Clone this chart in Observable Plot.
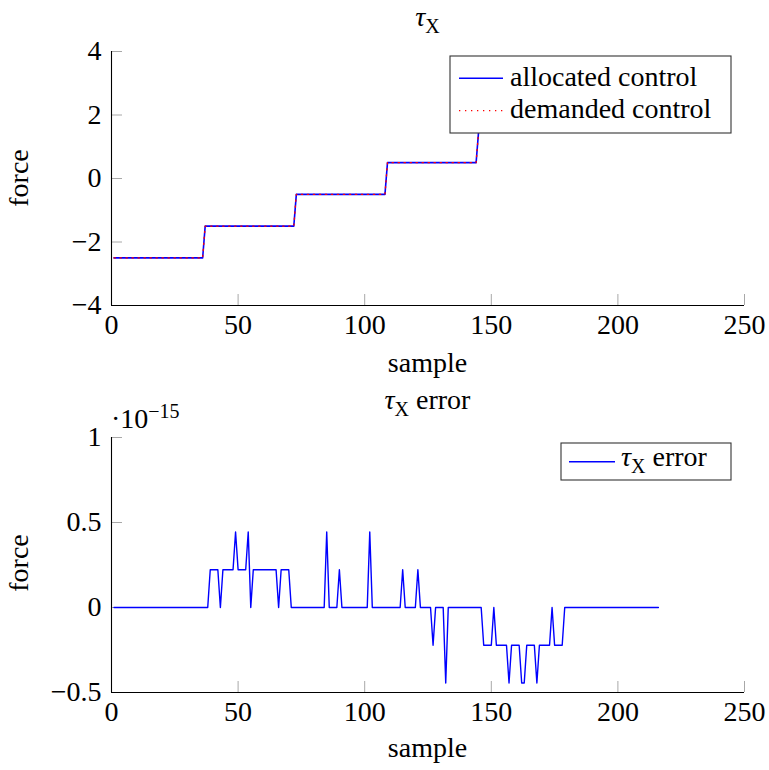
<!DOCTYPE html>
<html>
<head>
<meta charset="utf-8">
<script src="https://cdn.jsdelivr.net/npm/d3@7"></script>
<script src="https://cdn.jsdelivr.net/npm/@observablehq/plot@0.6"></script>
<style>
  html, body { margin: 0; padding: 0; background: #fff; }
  #chart svg { display: block; overflow: visible; }
</style>
</head>
<body>
<div id="chart"></div>
<script>
// ---- data ----
const xTicks = [0, 50, 100, 150, 200, 250];
const topYTicks = [-4, -2, 0, 2, 4];
const errYTicks = [-0.5, 0, 0.5, 1];

// τX: sample / force at the breakpoints of the step signal
const ctrlSample = [1, 36, 37, 72, 73, 108, 109, 144, 145, 180, 181, 216];
const allocatedForce = [-2.5, -2.5, -1.5, -1.5, -0.5, -0.5, 0.5, 0.5, 1.5, 1.5, 2.5, 2.5];
const demandedForce  = [-2.5, -2.5, -1.5, -1.5, -0.5, -0.5, 0.5, 0.5, 1.5, 1.5, 2.5, 2.5];

// τX error (units of 1e-15): sample / value at breakpoints
const errSample = [1, 38, 39, 42, 43, 44, 48, 49, 50, 53, 54, 55, 56, 65, 66, 67, 70, 71,
  84, 85, 86, 89, 90, 91, 101, 102, 103, 114, 115, 116, 120, 121, 122, 126, 127, 128,
  131, 132, 133, 146, 147, 150, 151, 152, 156, 157, 158, 161, 162, 163, 164, 167, 168,
  169, 173, 174, 175, 178, 179, 216];
const errValue = [0, 0, 0.222, 0.222, 0, 0.222, 0.222, 0.444, 0.222, 0.222, 0.444, 0, 0.222, 0.222, 0, 0.222, 0.222, 0,
  0, 0.444, 0, 0, 0.222, 0, 0, 0.444, 0, 0, 0.222, 0, 0, 0.222, 0, 0, -0.222, 0,
  0, -0.444, 0, 0, -0.222, -0.222, 0, -0.222, -0.222, -0.444, -0.222, -0.222, -0.444, -0.444, -0.222, -0.222, -0.444,
  -0.222, -0.222, 0, -0.222, -0.222, 0, 0];

const topTitle = "τ", subX = "X";
const legendTop = ["allocated control", "demanded control"];
const legendErr = " error";

// ---- layout ----
const W = 769, H = 385;
const FONT = "'Liberation Serif', 'Times New Roman', serif";
const FS = 28;
const SUB = 20;
const BLUE = "#0000ff", RED = "#ff0000", TICK = "#a8a8a8";

const allocated = ctrlSample.map((s, i) => ({sample: s, force: allocatedForce[i]}));
const demanded = ctrlSample.map((s, i) => ({sample: s, force: demandedForce[i]}));
const errData = errSample.map((s, i) => ({sample: s, value: errValue[i]}));

const fmt = d3.format("");

function frameMarks(m, yDomain, yTicks) {
  const ph = H - m.top - m.bottom, pw = W - m.left - m.right;
  return [
    Plot.tickX(xTicks, {x: d => d, stroke: TICK, strokeWidth: 1, insetTop: ph - 11}),
    Plot.tickY(yTicks, {y: d => d, stroke: TICK, strokeWidth: 1, insetRight: pw - 11}),
    Plot.axisX({ticks: xTicks, tickSize: 0, tickPadding: 9, label: null, tickFormat: fmt, fontSize: FS}),
    Plot.axisY({ticks: yTicks, tickSize: 0, tickPadding: 10, label: null, tickFormat: fmt, fontSize: FS}),
    Plot.ruleX([0], {stroke: "#000", strokeWidth: 1.1}),
    Plot.ruleY([yDomain[0]], {stroke: "#000", strokeWidth: 1.1})
  ];
}

function labels(g, titleY, extra) {
  const t = g.append("text").attr("x", 427.5).attr("y", titleY).attr("text-anchor", "middle")
    .attr("font-size", FS);
  t.append("tspan").attr("font-style", "italic").text(topTitle);
  t.append("tspan").attr("font-size", SUB).attr("dy", 7).text(subX);
  if (extra) t.append("tspan").attr("dy", -7).text(extra);
  g.append("text").attr("transform", "translate(28,178) rotate(-90)").attr("text-anchor", "middle")
    .attr("font-size", FS).text("force");
  g.append("text").attr("x", 427.5).attr("y", 372).attr("text-anchor", "middle")
    .attr("font-size", FS).text("sample");
}

// ---- top panel ----
const mTop = {top: 51, bottom: 80, left: 111, right: 25};
const topPlot = Plot.plot({
  width: W, height: H,
  marginTop: mTop.top, marginBottom: mTop.bottom, marginLeft: mTop.left, marginRight: mTop.right,
  style: {fontFamily: FONT, fontSize: FS + "px", background: "#fff", color: "#000", overflow: "visible"},
  x: {domain: [0, 250]},
  y: {domain: [-4, 4]},
  marks: [
    ...frameMarks(mTop, [-4, 4], topYTicks),
    Plot.line(allocated, {x: "sample", y: "force", stroke: BLUE, strokeWidth: 1.6}),
    Plot.line(demanded, {x: "sample", y: "force", stroke: RED, strokeWidth: 1.3, strokeDasharray: "1.3,4.7"}),
    () => {
      const g = d3.create("svg:g").attr("font-family", FONT);
      labels(g, 26, null);
      const lg = g.append("g").attr("text-anchor", "start");
      lg.append("rect").attr("x", 450).attr("y", 56).attr("width", 281).attr("height", 77)
        .attr("fill", "#fff").attr("stroke", "#333").attr("stroke-width", 1.1);
      lg.append("line").attr("x1", 459).attr("x2", 503).attr("y1", 78.3).attr("y2", 78.3)
        .attr("stroke", BLUE).attr("stroke-width", 1.6);
      lg.append("line").attr("x1", 459).attr("x2", 503).attr("y1", 110.7).attr("y2", 110.7)
        .attr("stroke", RED).attr("stroke-width", 1.3).attr("stroke-dasharray", "1.3,4.7");
      lg.append("text").attr("x", 510).attr("y", 86).attr("text-anchor", "start").attr("font-size", FS).text(legendTop[0]);
      lg.append("text").attr("x", 510).attr("y", 117.5).attr("text-anchor", "start").attr("font-size", FS).text(legendTop[1]);
      return g.node();
    }
  ]
});

// ---- bottom panel ----
const mErr = {top: 52, bottom: 78, left: 111, right: 25};
const errPlot = Plot.plot({
  width: W, height: H,
  marginTop: mErr.top, marginBottom: mErr.bottom, marginLeft: mErr.left, marginRight: mErr.right,
  style: {fontFamily: FONT, fontSize: FS + "px", background: "#fff", color: "#000", overflow: "visible"},
  x: {domain: [0, 250]},
  y: {domain: [-0.5, 1]},
  marks: [
    ...frameMarks(mErr, [-0.5, 1], errYTicks),
    Plot.line(errData, {x: "sample", y: "value", stroke: BLUE, strokeWidth: 1.4}),
    () => {
      const g = d3.create("svg:g").attr("font-family", FONT);
      labels(g, 24, legendErr);
      const e = g.append("text").attr("x", 111).attr("y", 43).attr("text-anchor", "start").attr("font-size", FS);
      e.append("tspan").text("·10");
      e.append("tspan").attr("font-size", SUB).attr("dy", -10).text("−15");
      const lg = g.append("g").attr("text-anchor", "start");
      lg.append("rect").attr("x", 561).attr("y", 58).attr("width", 170).attr("height", 37)
        .attr("fill", "#fff").attr("stroke", "#333").attr("stroke-width", 1.1);
      lg.append("line").attr("x1", 569).attr("x2", 615).attr("y1", 76.7).attr("y2", 76.7)
        .attr("stroke", BLUE).attr("stroke-width", 1.4);
      const t = lg.append("text").attr("x", 621).attr("y", 81).attr("text-anchor", "start").attr("font-size", FS);
      t.append("tspan").attr("font-style", "italic").text(topTitle);
      t.append("tspan").attr("font-size", SUB).attr("dy", 7).text(subX);
      t.append("tspan").attr("dy", -7).text(legendErr);
      return g.node();
    }
  ]
});

document.getElementById("chart").append(topPlot, errPlot);
</script>
</body>
</html>
